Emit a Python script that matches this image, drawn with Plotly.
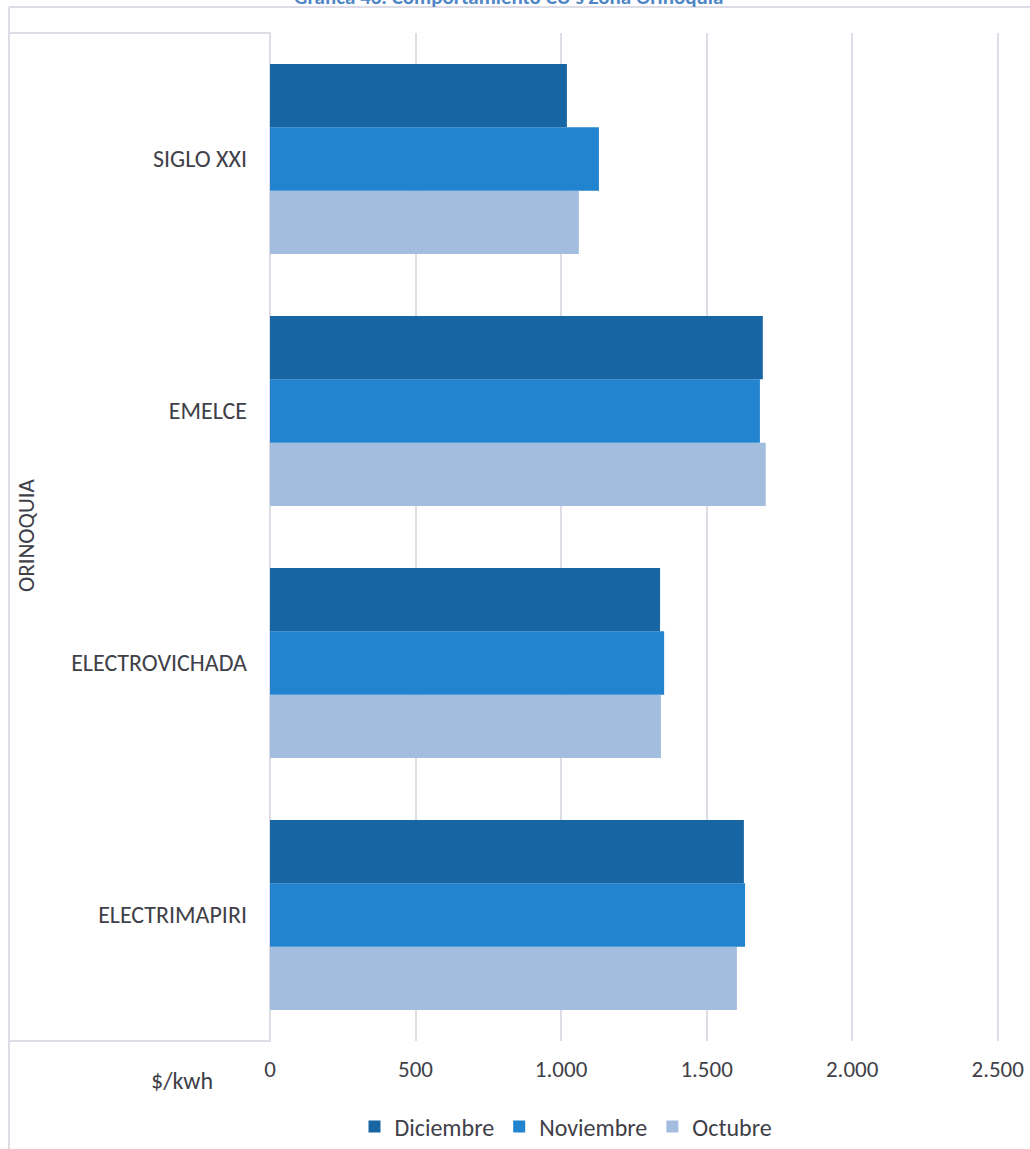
import plotly.graph_objects as go

# Data (categories listed bottom-to-top as drawn)
categorias = ["ELECTRIMAPIRI", "ELECTROVICHADA", "EMELCE", "SIGLO XXI"]
octubre = [1604, 1343, 1703, 1061]
noviembre = [1632, 1354, 1683, 1130]
diciembre = [1628, 1340, 1693, 1020]
x_ticks = [0, 500, 1000, 1500, 2000, 2500]
x_ticklabels = ["0", "500", "1.000", "1.500", "2.000", "2.500"]

W, H = 1030, 1149
L, R, T, B = 270, 1005, 33, 1041
PW, PH = R - L, B - T

def px(x):
    return (x - L) / PW

def py(y):
    return (B - y) / PH

FONT = "Carlito, Lato, 'Open Sans', sans-serif"
TXT = "#404048"
GRID = "#DEDDE5"

fig = go.Figure()
for name, vals, col in [
    ("Octubre", octubre, "#A3BDDF"),
    ("Noviembre", noviembre, "#2284CF"),
    ("Diciembre", diciembre, "#1865A4"),
]:
    fig.add_trace(go.Bar(
        y=categorias, x=vals, name=name, orientation="h",
        marker=dict(color=col, line=dict(width=0)),
    ))

fig.update_layout(
    width=W, height=H, autosize=False,
    margin=dict(l=L, r=W - R, t=T, b=H - B, pad=0, autoexpand=False),
    paper_bgcolor="white", plot_bgcolor="white",
    barmode="group", bargap=0.247, bargroupgap=0,
    separators=",.",
    font=dict(family=FONT, color=TXT, size=24),
    legend=dict(
        orientation="h", traceorder="reversed",
        xref="container", yref="container",
        x=566 / W, xanchor="center", y=1 - 1127 / H, yanchor="middle",
        font=dict(size=24, color=TXT, family=FONT),
        itemwidth=30,
    ),
    xaxis=dict(
        range=[0, 2525], tickvals=x_ticks, ticktext=x_ticklabels,
        showgrid=True, gridcolor=GRID, gridwidth=2,
        zeroline=False, showline=False, automargin=False,
        tickfont=dict(size=23, color=TXT, family=FONT),
        ticks="", ticklabelstandoff=12,
    ),
    yaxis=dict(
        type="category", categoryorder="array", categoryarray=categorias,
        showgrid=False, zeroline=False, showline=False, automargin=False,
        tickfont=dict(size=24, color=TXT, family=FONT),
        ticks="", ticklabelstandoff=22,
    ),
)

shapes = [
    # outer chart frame (top and left)
    dict(type="line", xref="paper", yref="paper", x0=px(9), x1=px(1030), y0=py(7), y1=py(7),
         line=dict(color=GRID, width=2)),
    dict(type="line", xref="paper", yref="paper", x0=px(9), x1=px(9), y0=py(7), y1=py(1149),
         line=dict(color=GRID, width=2)),
    # category group box
    dict(type="rect", xref="paper", yref="paper", x0=px(9), x1=px(270), y0=py(33), y1=py(1041),
         line=dict(color=GRID, width=2), fillcolor="rgba(0,0,0,0)", layer="below"),
]
fig.update_layout(shapes=shapes)

fig.add_annotation(
    text="<b>Gráfica 46. Comportamiento CU's Zona Orinoquia</b>",
    xref="paper", yref="paper", x=px(508), y=py(-3), xanchor="center", yanchor="middle",
    showarrow=False, font=dict(size=21, color="#4F86C6", family=FONT),
)
fig.add_annotation(
    text="ORINOQUIA", textangle=-90,
    xref="paper", yref="paper", x=px(26), y=py(535), xanchor="center", yanchor="middle",
    showarrow=False, font=dict(size=23, color=TXT, family=FONT),
)
fig.add_annotation(
    text="$/kwh",
    xref="paper", yref="paper", x=px(182), y=py(1080), xanchor="center", yanchor="middle",
    showarrow=False, font=dict(size=24, color=TXT, family=FONT),
)

fig.write_html(
    "out.html",
    config={"displayModeBar": False},
    post_script="document.body.style.margin='0';document.body.style.padding='0';"
                "document.documentElement.style.overflow='hidden';",
)
